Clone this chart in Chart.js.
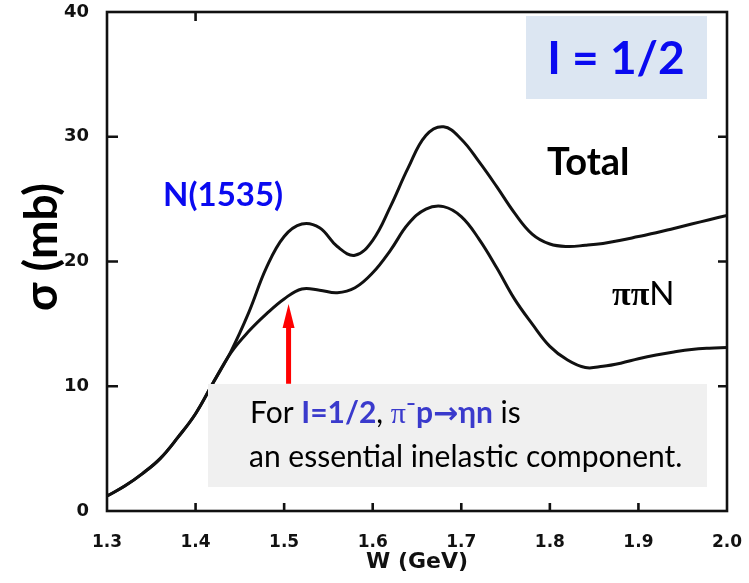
<!DOCTYPE html>
<html>
<head>
<meta charset="utf-8">
<script src="https://cdn.jsdelivr.net/npm/chart.js@4.4.1/dist/chart.umd.min.js"></script>
<style>
  html, body { margin: 0; padding: 0; background: #fff; }
  #wrap { width: 749px; height: 583px; }
</style>
</head>
<body>
<div id="wrap"><canvas id="chart" width="749" height="583"></canvas></div>
<script>
// W (GeV) grid and sigma (mb) values
const wGrid = [1.30, 1.32, 1.34, 1.36, 1.38, 1.40, 1.42, 1.44, 1.46, 1.48, 1.50, 1.52, 1.54, 1.56, 1.58, 1.60, 1.62, 1.64, 1.66, 1.68, 1.70, 1.72, 1.74, 1.76, 1.78, 1.80, 1.82, 1.84, 1.86, 1.88, 1.90, 1.92, 1.94, 1.96, 1.98, 2.00];
const sigmaTotal = [1.2, 2.0, 3.0, 4.2, 5.9, 7.8, 10.3, 12.8, 15.9, 19.5, 22.0, 23.0, 22.7, 21.2, 20.5, 21.7, 24.4, 27.5, 30.1, 30.8, 29.8, 28.0, 26.0, 23.9, 22.2, 21.4, 21.2, 21.3, 21.45, 21.7, 22.0, 22.3, 22.65, 23.0, 23.35, 23.7];
const sigmaPipiN = [1.2, 2.0, 3.0, 4.2, 5.9, 7.8, 10.3, 12.7, 14.4, 15.8, 17.0, 17.8, 17.7, 17.5, 17.9, 19.1, 20.9, 23.0, 24.2, 24.4, 23.6, 21.8, 19.5, 17.0, 15.0, 13.2, 12.1, 11.5, 11.6, 11.85, 12.2, 12.5, 12.75, 12.95, 13.05, 13.1];

const xTicks = [1.3, 1.4, 1.5, 1.6, 1.7, 1.8, 1.9, 2.0];
const yTicks = [0, 10, 20, 30, 40];
const topTicks = [1.4];

const toPoints = (xs, ys) => xs.map((x, i) => ({x: x, y: ys[i]}));

const INK = '#111';
const BLUE = '#0a0af0';
const TEXT_BLUE = '#3a3acc';
const SANS = 'Lato, "Noto Sans", sans-serif';
const SERIF = '"Liberation Serif", "DejaVu Serif", serif';

// frame and inward ticks, drawn from the scales
const framePlugin = {
  id: 'frame',
  afterDatasetsDraw(chart) {
    const {ctx, scales: {x, y}} = chart;
    const l = x.getPixelForValue(1.3), r = x.getPixelForValue(2.0);
    const t = y.getPixelForValue(40), b = y.getPixelForValue(0);
    ctx.save();
    ctx.strokeStyle = INK;
    ctx.lineWidth = 2.6;
    ctx.strokeRect(l, t, r - l, b - t);
    ctx.beginPath();
    yTicks.slice(1, -1).forEach((v) => {
      const py = y.getPixelForValue(v);
      ctx.moveTo(l, py); ctx.lineTo(l + 11, py);
      ctx.moveTo(r, py); ctx.lineTo(r - 9, py);
    });
    xTicks.slice(1, -1).forEach((v) => {
      const px = x.getPixelForValue(v);
      ctx.moveTo(px, b); ctx.lineTo(px, b - 8);
    });
    topTicks.forEach((v) => {
      const px = x.getPixelForValue(v);
      ctx.moveTo(px, t); ctx.lineTo(px, t + 9);
    });
    ctx.stroke();

    // y axis title, sitting a little above the middle like the scan
    ctx.translate(42, 247);
    ctx.rotate(-Math.PI / 2);
    ctx.fillStyle = '#000';
    ctx.font = `bold 46px ${SANS}`;
    ctx.textAlign = 'center';
    ctx.textBaseline = 'middle';
    ctx.fillText('σ (mb)', 0, 0);
    ctx.restore();
  }
};

// draws a line of text made of styled pieces
function drawRuns(ctx, runs, x, y) {
  runs.forEach((run) => {
    ctx.font = run.font;
    ctx.fillStyle = run.color;
    ctx.fillText(run.text, x, y);
    x += ctx.measureText(run.text).width;
  });
}

const notesPlugin = {
  id: 'notes',
  afterDatasetsDraw(chart) {
    const {ctx, scales: {x, y}} = chart;
    ctx.save();

    // red arrow pointing at the N(1535) shoulder
    const ax = x.getPixelForValue(1.505);
    const tip = y.getPixelForValue(16.6);
    const tail = y.getPixelForValue(10.2);
    ctx.fillStyle = '#ff0000';
    ctx.fillRect(ax - 2.5, tip + 20, 5, tail - tip - 20);
    ctx.beginPath();
    ctx.moveTo(ax, tip);
    ctx.lineTo(ax - 6, tip + 24);
    ctx.lineTo(ax + 6, tip + 24);
    ctx.closePath();
    ctx.fill();

    // grey note box
    ctx.fillStyle = '#f0f0f0';
    ctx.fillRect(208, 384, 499, 103);
    ctx.textBaseline = 'alphabetic';
    const reg = `30px ${SANS}`;
    const bold = `bold 30px ${SANS}`;
    drawRuns(ctx, [
      {text: 'For ', font: reg, color: '#000'},
      {text: 'I=1/2', font: bold, color: TEXT_BLUE},
      {text: ', ', font: reg, color: '#000'},
      {text: 'π', font: `30px ${SERIF}`, color: TEXT_BLUE},
      {text: '⁻', font: bold, color: TEXT_BLUE},
      {text: 'p', font: bold, color: TEXT_BLUE},
      {text: '→', font: `bold 30px "DejaVu Sans"`, color: TEXT_BLUE},
      {text: 'ηn', font: bold, color: TEXT_BLUE},
      {text: ' is', font: reg, color: '#000'}
    ], 250, 423);
    drawRuns(ctx, [{text: 'an essential inelastic component.', font: reg, color: '#000'}], 249, 467);

    // isospin label
    ctx.fillStyle = '#dce6f2';
    ctx.fillRect(526, 16, 181, 83);
    ctx.fillStyle = BLUE;
    ctx.font = `bold 46px ${SANS}`;
    ctx.textAlign = 'center';
    ctx.fillText('I = 1/2', 616, 74);

    ctx.textAlign = 'left';
    ctx.fillStyle = '#000';
    ctx.font = `bold 38px ${SANS}`;
    ctx.fillText('Total', 547, 175);

    drawRuns(ctx, [
      {text: 'ππ', font: `bold 34px ${SERIF}`, color: '#000'},
      {text: 'N', font: `33px ${SANS}`, color: '#000'}
    ], 612, 305);

    ctx.fillStyle = BLUE;
    ctx.font = `bold 33px ${SANS}`;
    ctx.fillText('N(1535)', 163, 206);

    ctx.restore();
  }
};

const lineStyle = {
  borderColor: INK,
  borderWidth: 3,
  pointRadius: 0,
  fill: false,
  tension: 0.4
};

new Chart(document.getElementById('chart'), {
  type: 'line',
  data: {
    datasets: [
      Object.assign({label: 'Total', data: toPoints(wGrid, sigmaTotal)}, lineStyle),
      Object.assign({label: 'ππN', data: toPoints(wGrid, sigmaPipiN)}, lineStyle)
    ]
  },
  options: {
    responsive: false,
    devicePixelRatio: 1,
    animation: false,
    layout: {padding: {left: 0, top: 12, right: 22, bottom: 0}},
    plugins: {legend: {display: false}, tooltip: {enabled: false}},
    scales: {
      x: {
        type: 'linear',
        min: 1.3,
        max: 2.0,
        afterBuildTicks: (scale) => { scale.ticks = xTicks.map((v) => ({value: v})); },
        afterFit: (scale) => {
          scale.height = 72;
          scale.paddingLeft = 0;
          scale.paddingRight = 0;
        },
        grid: {display: false},
        border: {display: false},
        ticks: {
          color: INK,
          padding: 13,
          maxRotation: 0,
          font: {family: '"DejaVu Sans"', weight: 'bold', size: 17},
          callback: (v) => v.toFixed(1)
        },
        title: {
          display: true,
          text: 'W (GeV)',
          color: INK,
          padding: {top: 8, bottom: 8},
          font: {family: '"DejaVu Sans"', weight: 'bold', size: 22}
        }
      },
      y: {
        min: 0,
        max: 40,
        afterBuildTicks: (scale) => { scale.ticks = yTicks.map((v) => ({value: v})); },
        afterFit: (scale) => {
          scale.width = 107;
          scale.paddingTop = 0;
          scale.paddingBottom = 0;
        },
        grid: {display: false},
        border: {display: false},
        ticks: {
          color: INK,
          padding: 10,
          font: {family: '"DejaVu Sans"', weight: 'bold', size: 18}
        }
      }
    }
  },
  plugins: [framePlugin, notesPlugin]
});
</script>
</body>
</html>
